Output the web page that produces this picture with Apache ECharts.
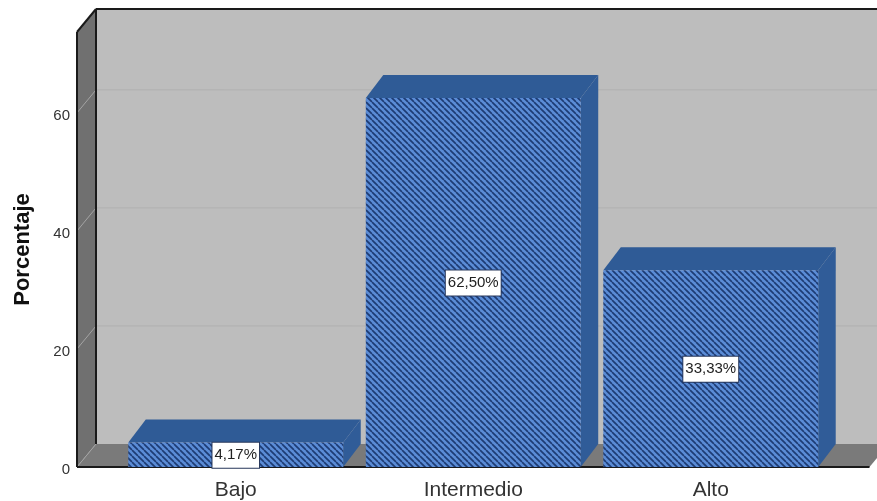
<!DOCTYPE html>
<html>
<head>
<meta charset="utf-8">
<style>html,body{margin:0;padding:0;background:#fff}#chart{width:877px;height:501px}</style>
<script src="https://cdn.jsdelivr.net/npm/echarts@6/dist/echarts.min.js"></script>
</head>
<body>
<div id="chart"></div>
<script>
// Percentage of respondents per level, drawn as a 3D-style bar chart.
const categories = ['Bajo', 'Intermedio', 'Alto'];
const percentages = [4.17, 62.50, 33.33];
const valueLabels = ['4,17%', '62,50%', '33,33%'];
const yTicks = [0, 20, 40, 60];
const yMax = 73.7;

// Oblique depth of the room and of the bars, in pixels.
const DX = 19, DY = 23;
const BAR_DX = 17.5;
// Gap between the band edge and the floor's front corner.
const PAD = 40;
const BAR_RATIO = 0.905;

function hatchPattern() {
  const s = 6;
  const c = document.createElement('canvas');
  c.width = s; c.height = s;
  const g = c.getContext('2d');
  g.fillStyle = '#5b8cd6';
  g.fillRect(0, 0, s, s);
  g.strokeStyle = '#1e3c74';
  g.lineWidth = 1.7;
  for (let i = -s; i <= s * 2; i += s) {
    g.beginPath();
    g.moveTo(i, 0);
    g.lineTo(i + s, s);
    g.stroke();
  }
  return { image: c, repeat: 'repeat' };
}
const hatch = hatchPattern();

function renderRoom(params, api) {
  const cs = params.coordSys;
  const x0 = cs.x - PAD, x1 = cs.x + cs.width + PAD;
  const yTop = cs.y, yBot = cs.y + cs.height;
  const edge = { stroke: '#1a1a1a', lineWidth: 2 };
  const children = [
    { type: 'polygon', shape: { points: [[x0 + DX, yTop - DY], [x1 + DX, yTop - DY], [x1 + DX, yBot - DY], [x0 + DX, yBot - DY]] }, style: { fill: '#bdbdbd' } },
    { type: 'polygon', shape: { points: [[x0, yTop], [x0 + DX, yTop - DY], [x0 + DX, yBot - DY], [x0, yBot]] }, style: { fill: '#707070' } },
    { type: 'polygon', shape: { points: [[x0, yBot], [x0 + DX, yBot - DY], [x1 + DX, yBot - DY], [x1, yBot]] }, style: { fill: '#7a7a7a' } }
  ];
  yTicks.forEach(function (t) {
    const y = api.coord([0, t])[1];
    if (t > 0) {
      children.push({ type: 'line', shape: { x1: x0 + DX, y1: y - DY, x2: x1 + DX, y2: y - DY }, style: { stroke: '#b0b0b0', lineWidth: 1 } });
    }
    children.push({ type: 'line', shape: { x1: x0, y1: y, x2: x0 + DX, y2: y - DY }, style: { stroke: '#a4a4a4', lineWidth: 1 } });
  });
  children.push(
    { type: 'line', shape: { x1: x0 + DX, y1: yTop - DY, x2: x1 + DX, y2: yTop - DY }, style: edge },
    { type: 'line', shape: { x1: x0 + DX, y1: yTop - DY, x2: x0 + DX, y2: yBot - DY }, style: edge },
    { type: 'line', shape: { x1: x0, y1: yTop, x2: x0 + DX, y2: yTop - DY }, style: edge },
    { type: 'line', shape: { x1: x0, y1: yTop, x2: x0, y2: yBot }, style: edge },
    { type: 'line', shape: { x1: x0, y1: yBot, x2: x1, y2: yBot }, style: edge }
  );
  return { type: 'group', children: children };
}

function renderBar(params, api) {
  const idx = api.value(0);
  const val = api.value(1);
  const top = api.coord([idx, val]);
  const base = api.coord([idx, 0]);
  const w = api.size([1, 0])[0] * BAR_RATIO;
  const l = top[0] - w / 2, r = top[0] + w / 2;
  const t = top[1], b = base[1];
  return {
    type: 'group',
    children: [
      { type: 'polygon', shape: { points: [[l, t], [l + BAR_DX, t - DY], [r + BAR_DX, t - DY], [r, t]] }, style: { fill: '#2f5b96' } },
      { type: 'polygon', shape: { points: [[r, t], [r + BAR_DX, t - DY], [r + BAR_DX, b - DY], [r, b]] }, style: { fill: '#305c98' } },
      { type: 'rect', shape: { x: l, y: t, width: w, height: b - t }, style: { fill: hatch } },
      {
        type: 'text',
        x: top[0],
        y: (t + b) / 2 + 0.5,
        style: {
          text: valueLabels[params.dataIndex],
          fill: '#222',
          font: '15px "Liberation Sans", Arial, sans-serif',
          align: 'center',
          verticalAlign: 'middle',
          backgroundColor: '#fff',
          borderColor: '#26365a',
          borderWidth: 1,
          padding: [6, 2, 4, 2]
        }
      }
    ]
  };
}

const chart = echarts.init(document.getElementById('chart'), null, { renderer: 'canvas' });
chart.setOption({
  animation: false,
  backgroundColor: '#fff',
  grid: { left: 117, right: 47.5, top: 32, height: 435 },
  xAxis: {
    type: 'category',
    data: categories,
    axisLine: { show: false },
    axisTick: { show: false },
    axisLabel: { fontFamily: '"Liberation Sans", Arial', fontSize: 21, color: '#333', margin: 13 }
  },
  yAxis: {
    type: 'value',
    min: 0,
    max: yMax,
    interval: 20,
    offset: PAD,
    name: 'Porcentaje',
    nameLocation: 'middle',
    nameGap: 43,
    nameRotate: 90,
    nameTextStyle: { fontFamily: '"Liberation Sans", Arial', fontSize: 22, fontWeight: 'bold', color: '#111' },
    axisLine: { show: false },
    axisTick: { show: false },
    splitLine: { show: false },
    axisLabel: {
      margin: 7,
      showMaxLabel: false,
      formatter: '{v|{value}}',
      rich: { v: { fontFamily: '"Liberation Sans", Arial', fontSize: 15, color: '#333', padding: [6, 0, 0, 0] } }
    }
  },
  series: [
    { type: 'custom', silent: true, clip: false, renderItem: renderRoom, data: [[0, 0]], z: 1 },
    { type: 'custom', silent: true, clip: false, renderItem: renderBar, encode: { x: 0, y: 1 }, data: percentages.map(function (v, i) { return [i, v]; }), z: 2 }
  ]
});
</script>
</body>
</html>
